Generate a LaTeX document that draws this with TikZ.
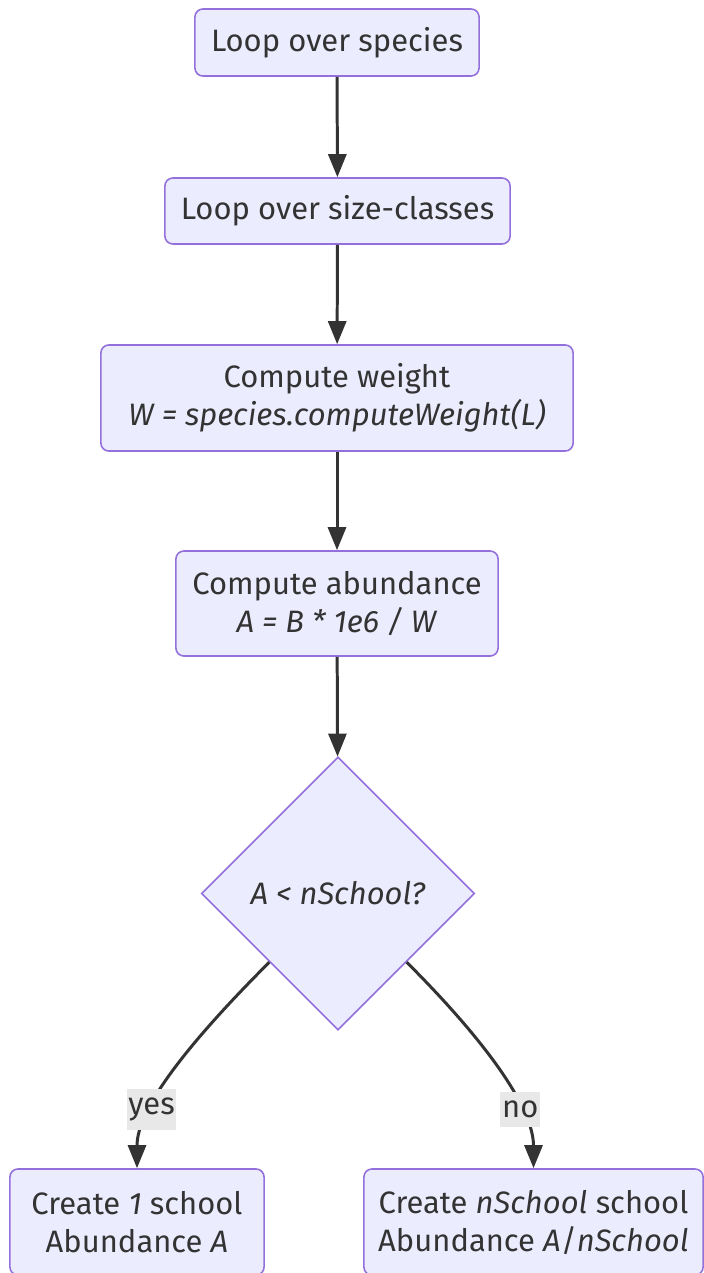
\documentclass[tikz,border=0pt]{standalone}
\usepackage{fontspec}
\setmainfont{Fira Sans}
\usetikzlibrary{shapes.geometric,arrows.meta}
\definecolor{boxfill}{HTML}{ECECFF}
\definecolor{boxline}{HTML}{9370DB}
\definecolor{ink}{HTML}{333333}
\definecolor{lblfill}{HTML}{E8E8E8}
\tikzset{
	stepbox/.style={draw=boxline,fill=boxfill,rounded corners=0.08cm,line width=0.45pt,
		text=ink,align=center,inner sep=0,font=\fontsize{8.8}{10.8}\selectfont},
	decbox/.style={diamond,draw=boxline,fill=boxfill,line width=0.45pt,text=ink,
		inner sep=0,minimum width=2.73cm,minimum height=2.73cm,font=\fontsize{8.8}{10.8}\selectfont},
	edgelbl/.style={fill=lblfill,text=ink,inner xsep=0.5pt,inner ysep=2.5pt,font=\fontsize{8.8}{10.8}\selectfont}
}
\begin{document}
\begin{tikzpicture}[x=0.01cm,y=0.01cm,line width=0.85pt,arrows={-Triangle[length=2.3mm,width=1.8mm]}]
		\useasboundingbox (0,0) rectangle (703,-1273);
		\node[stepbox,minimum width=2.84cm,minimum height=0.67cm] (species) at (337,-42.5) {Loop over species};
		\node[stepbox,minimum width=3.45cm,minimum height=0.66cm] (sizes) at (337.5,-211) {Loop over size-classes};
		\node[stepbox,minimum width=4.72cm,minimum height=1.06cm] (weight) at (337,-398) {Compute weight\\\textit{W = species.computeWeight(L)}};
		\node[stepbox,minimum width=3.22cm,minimum height=1.05cm] (abund) at (337,-603.5) {Compute abundance\\\textit{A = B * 1e6 / W}};
		\node[decbox] (test) at (338,-893.5) {\textit{A < nSchool?}};
		\node[stepbox,minimum width=2.54cm,minimum height=1.06cm] (one) at (137,-1222) {Create \textit{1} school\\Abundance \textit{A}};
		\node[stepbox,minimum width=3.39cm,minimum height=1.06cm] (many) at (533.5,-1222) {Create \textit{nSchool} school\\Abundance \textit{A}/\textit{nSchool}};
		\draw[ink] (species)--(sizes);
		\draw[ink] (sizes)--(weight);
		\draw[ink] (weight)--(abund);
		\draw[ink] (abund)--(test);
		\draw[ink] (test) to[out=-135,in=90,out looseness=1.3,in looseness=0.6] node[edgelbl,pos=0.67]{yes} (one);
		\draw[ink] (test) to[out=-45,in=90,out looseness=1.3,in looseness=0.6] node[edgelbl,pos=0.67]{no} (many);
	\end{tikzpicture}
\end{document}
